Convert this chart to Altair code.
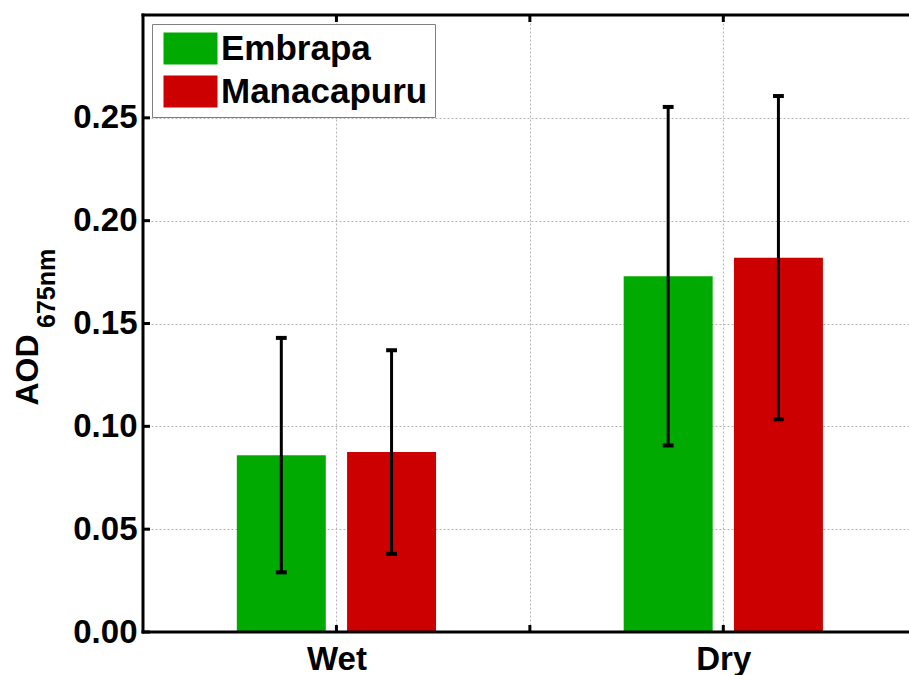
import altair as alt
import pandas as pd

# Seasonal mean aerosol optical depth at 675 nm and its standard deviation
seasons = ["Wet", "Dry"]
sites = ["Embrapa", "Manacapuru"]
site_colors = ["#00aa00", "#cc0000"]
aod_mean_embrapa = [0.086, 0.173]
aod_mean_manacapuru = [0.0875, 0.182]
aod_std_embrapa = [0.057, 0.0823]
aod_std_manacapuru = [0.0495, 0.0786]
y_ticks = [0.0, 0.05, 0.10, 0.15, 0.20, 0.25]
x_ticks = [1.0, 1.5, 2.0]

# grouped-bar geometry in x-axis units (season i sits at x = i + 1)
BAR_OFFSET = 0.1425
BAR_HALF = 0.115
CAP_HALF = 0.014

rows = []
for s_i, season in enumerate(seasons):
    for k, (site, means, stds) in enumerate(
        zip(sites, [aod_mean_embrapa, aod_mean_manacapuru], [aod_std_embrapa, aod_std_manacapuru])
    ):
        center = s_i + 1 + (BAR_OFFSET if k else -BAR_OFFSET)
        m, sd = means[s_i], stds[s_i]
        rows.append(dict(season=season, site=site, mean=m, lo=m - sd, hi=m + sd,
                         xc=center, x0=center - BAR_HALF, x1=center + BAR_HALF,
                         c0=center - CAP_HALF, c1=center + CAP_HALF))
df = pd.DataFrame(rows)

W, H = 766, 617
FONT = "Liberation Sans"
xs = alt.Scale(domain=[0.5, 2.48], nice=False, zero=False)
ys = alt.Scale(domain=[0, 0.3], nice=False)
x_axis = alt.Axis(values=x_ticks, title=None,
                  labelExpr="datum.value == 1 ? 'Wet' : (datum.value == 2 ? 'Dry' : '')")
y_axis = alt.Axis(values=y_ticks, format=".2f", title="AOD")


def X(field):
    return alt.X(field, scale=xs, axis=x_axis)


def Y(field):
    return alt.Y(field, scale=ys, axis=y_axis)


base = alt.Chart(df)

bars = base.mark_bar(opacity=1).encode(
    x=X("x0:Q"),
    x2="x1:Q",
    y=Y("mean:Q"),
    y2=alt.datum(0),
    color=alt.Color(
        "site:N",
        scale=alt.Scale(domain=sites, range=site_colors),
        legend=alt.Legend(
            title=None, orient="none", legendX=9, legendY=9,
            padding=7, fillColor="white", strokeColor="#808080",
            symbolType="M-1.6875,-1H1.6875V1H-1.6875Z", symbolSize=1024,
            symbolStrokeWidth=0, symbolOffset=14, symbolOpacity=1,
            labelOffset=13, labelLimit=400, labelFont=FONT, labelFontSize=35,
            labelFontWeight="bold", labelColor="black", rowPadding=7,
        ),
    ),
)

err = base.mark_rule(color="black", strokeWidth=3).encode(
    x=X("xc:Q"), y=Y("lo:Q"), y2="hi:Q"
)
cap_lo = base.mark_rule(color="black", strokeWidth=4).encode(
    x=X("c0:Q"), x2="c1:Q", y=Y("lo:Q")
)
cap_hi = base.mark_rule(color="black", strokeWidth=4).encode(
    x=X("c0:Q"), x2="c1:Q", y=Y("hi:Q")
)

# axes box (left, bottom, top) and inward tick marks
one = alt.Chart(pd.DataFrame({"k": [0]}))
frame_style = dict(color="black", strokeWidth=3, strokeCap="square")
bottom_line = one.mark_rule(**frame_style).encode(y=alt.datum(0.0), x=alt.value(0), x2=alt.value(W))
top_line = one.mark_rule(**frame_style).encode(y=alt.datum(0.3), x=alt.value(0), x2=alt.value(W))
left_line = one.mark_rule(**frame_style).encode(x=alt.datum(0.5), y=alt.value(0), y2=alt.value(H))

yt = alt.Chart(pd.DataFrame({"v": y_ticks}))
xt = alt.Chart(pd.DataFrame({"v": x_ticks}))
y_tick_marks = yt.mark_rule(color="black", strokeWidth=3).encode(
    y=Y("v:Q"), x=alt.value(0), x2=alt.value(7))
x_tick_bottom = xt.mark_rule(color="black", strokeWidth=3).encode(
    x=X("v:Q"), y=alt.value(H), y2=alt.value(H - 7))
x_tick_top = xt.mark_rule(color="black", strokeWidth=3).encode(
    x=X("v:Q"), y=alt.value(0), y2=alt.value(7))

subscript = alt.Chart(pd.DataFrame({"t": ["675nm"]})).mark_text(
    angle=270, align="left", baseline="alphabetic", font=FONT, fontSize=25,
    fontWeight="bold", color="black",
).encode(text="t:N", x=alt.value(-88), y=alt.value(313))

chart = (
    alt.layer(bars, err, cap_lo, cap_hi, bottom_line, top_line, left_line,
              y_tick_marks, x_tick_bottom, x_tick_top, subscript)
    .properties(width=W, height=H, autosize="none",
                padding={"left": 143, "top": 15, "right": 0, "bottom": 43},
                background="white")
    .configure_view(stroke=None)
    .configure_axis(
        domain=False, ticks=False, grid=True, gridColor="#b4b4b4",
        gridDash=[2, 2], gridWidth=1, labelFont=FONT, labelFontWeight="bold",
        labelColor="black", labelFontSize=33,
    )
    .configure_axisX(labelPadding=11)
    .configure_axisY(
        labelPadding=6, titleFont=FONT, titleFontSize=32, titleFontWeight="bold",
        titleColor="black", titleAngle=270, titleX=-106, titleY=390,
        titleAlign="left", titleBaseline="alphabetic",
    )
)

chart.save("out.html", embed_options={"renderer": "svg", "actions": False})
